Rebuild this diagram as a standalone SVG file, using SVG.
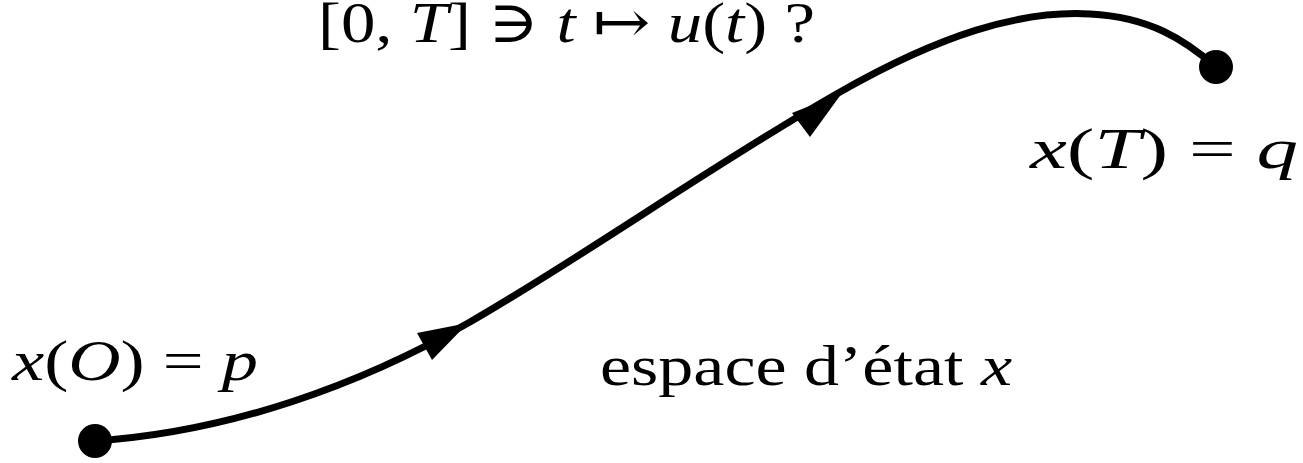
<svg xmlns="http://www.w3.org/2000/svg" width="1303" height="463" viewBox="0 0 1303 463">
<style>
text{font-family:"Liberation Serif","DejaVu Serif",serif;font-size:58px;fill:#000}
.i{font-style:italic}
.curve{fill:none;stroke:#000;stroke-width:7;stroke-linecap:round}
</style>
<rect width="1303" height="463" fill="#fff"/>
<g id="connectors">
<path class="curve" d="M95,441 C230,432 360,385 470,322 S720,160 840,92 C940,35 1020,10 1090,14 C1150,17 1185,40 1216,67"/>
<polygon points="468,323 417,333 432,360" fill="#000"/>
<polygon points="842,93 792,113 810,137" fill="#000"/>
</g>
<g id="start">
<circle cx="95" cy="441" r="17" fill="#000"/>
<text x="12" y="380" textLength="246" lengthAdjust="spacingAndGlyphs"><tspan class="i">x</tspan>(<tspan class="i">O</tspan>) = <tspan class="i">p</tspan></text>
</g>
<g id="end">
<circle cx="1216" cy="67" r="17" fill="#000"/>
<text x="1030" y="168" textLength="268" lengthAdjust="spacingAndGlyphs"><tspan class="i">x</tspan>(<tspan class="i">T</tspan>) = <tspan class="i">q</tspan></text>
</g>
<g id="title">
<text x="318" y="42" textLength="497" lengthAdjust="spacingAndGlyphs">[0, <tspan class="i">T</tspan>] ∋ <tspan class="i">t</tspan> ↦ <tspan class="i">u</tspan>(<tspan class="i">t</tspan>) ?</text>
</g>
<g id="space">
<text x="600" y="385" textLength="412" lengthAdjust="spacingAndGlyphs">espace d’état <tspan class="i">x</tspan></text>
</g>
</svg>
